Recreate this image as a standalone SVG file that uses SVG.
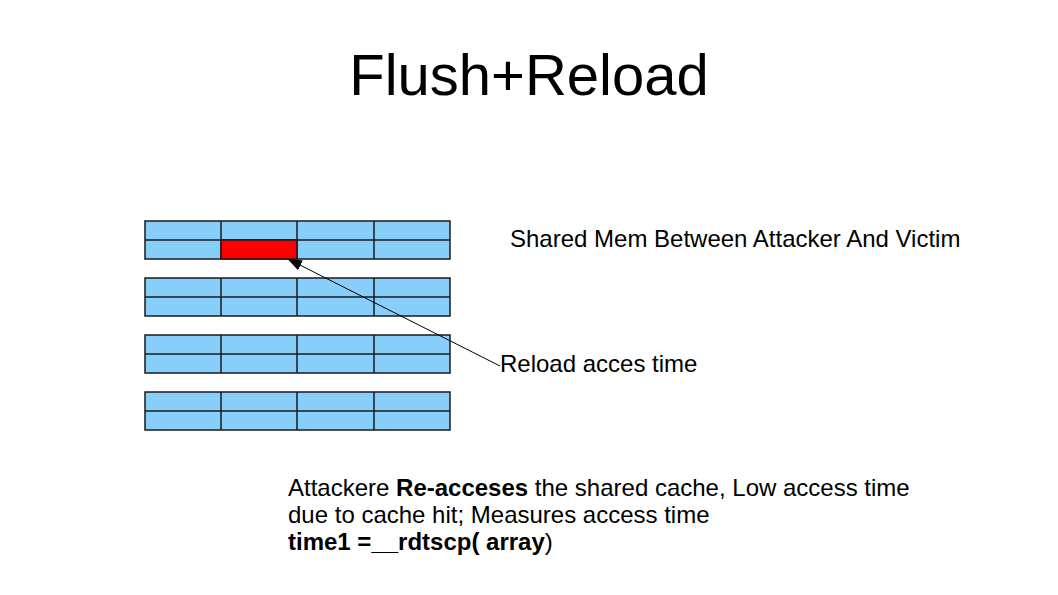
<svg xmlns="http://www.w3.org/2000/svg" width="1058" height="595" viewBox="0 0 1058 595">
  <defs>
    <marker id="arrow" viewBox="0 0 15 11" refX="14" refY="5.5" markerWidth="15" markerHeight="11" markerUnits="userSpaceOnUse" orient="auto">
      <path d="M0,0 L15,5.5 L0,11 z" fill="#000"/>
    </marker>
    <g id="block">
      <rect x="0" y="0" width="305" height="38" class="cell"/>
      <line x1="0" y1="19" x2="305" y2="19" class="grid"/>
      <line x1="76" y1="0" x2="76" y2="38" class="grid"/>
      <line x1="152" y1="0" x2="152" y2="38" class="grid"/>
      <line x1="229" y1="0" x2="229" y2="38" class="grid"/>
    </g>
  </defs>
  <style>
    .cell { fill: #87cefa; stroke: #1a1a1a; stroke-width: 1.5; }
    .grid { stroke: #1a1a1a; stroke-width: 1.5; }
    .hit { fill: #ff0000; stroke: #1a1a1a; stroke-width: 1.5; }
    .txt { font-family: "Liberation Sans", Arial, sans-serif; fill: #000; }
    .link { stroke: #000; stroke-width: 1; fill: none; }
  </style>
  <rect width="1058" height="595" fill="#fff"/>

  <text class="txt" x="529" y="95" font-size="58" text-anchor="middle">Flush+Reload</text>

  <!-- cache memory blocks -->
  <g id="block1"><use href="#block" x="145" y="221"/><rect class="hit" x="221" y="240" width="76" height="19"/></g>
  <g id="block2"><use href="#block" x="145" y="278"/></g>
  <g id="block3"><use href="#block" x="145" y="335"/></g>
  <g id="block4"><use href="#block" x="145" y="392"/></g>

  <g id="connectors">
    <line class="link" x1="500" y1="366" x2="288" y2="259" marker-end="url(#arrow)"/>
  </g>

  <g id="labels">
    <text class="txt" x="510" y="247" font-size="24">Shared Mem Between Attacker And Victim</text>
    <text class="txt" x="500" y="372" font-size="24">Reload acces time</text>
    <text class="txt" x="288" y="496" font-size="24">Attackere <tspan font-weight="bold">Re-acceses</tspan> the shared cache, Low access time</text>
    <text class="txt" x="288" y="523" font-size="24">due to cache hit; Measures access time</text>
    <text class="txt" x="288" y="550" font-size="24"><tspan font-weight="bold">time1 =__rdtscp( array</tspan>)</text>
  </g>
</svg>
